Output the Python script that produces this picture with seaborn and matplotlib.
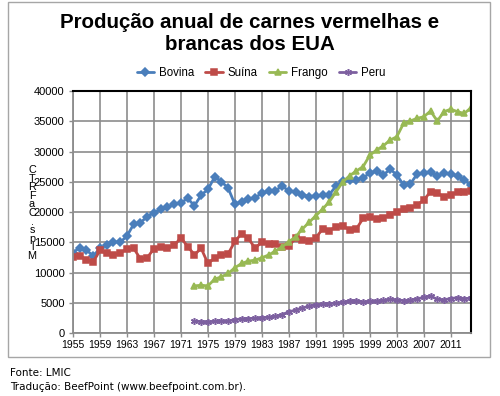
import matplotlib
matplotlib.use("Agg")
import matplotlib.pyplot as plt
import seaborn as sns
import pandas as pd
from matplotlib.patches import Rectangle

# Data (million lbs)
years = list(range(1955, 2015))
poultry_years = list(range(1973, 2015))

bovina = [13300, 14100, 13700, 12750, 14000, 14550, 15100, 15000, 16050, 18000,
          18250, 19250, 19900, 20450, 20800, 21300, 21550, 22250, 21050, 22800,
          23750, 25800, 25050, 23950, 21300, 21700, 22150, 22400, 23100, 23450,
          23500, 24350, 23450, 23350, 22900, 22550, 22700, 22800, 22900, 24300,
          25150, 25300, 25300, 25700, 26400, 26800, 26100, 27100, 26150, 24450,
          24650, 26250, 26400, 26550, 26000, 26400, 26250, 26000, 25300, 24400]

suina = [12550, 12800, 12050, 11800, 13650, 13150, 12900, 13250, 13900, 14000,
         12250, 12450, 13950, 14250, 14000, 14500, 15750, 14300, 12950, 14000,
         11500, 12400, 12900, 13100, 15150, 16450, 15650, 14000, 15100, 14700,
         14650, 14200, 14450, 15650, 15400, 15150, 15750, 17200, 16950, 17550,
         17750, 17050, 17200, 18950, 19250, 18800, 19050, 19550, 20050, 20500,
         20700, 21150, 22000, 23350, 23100, 22550, 22900, 23250, 23250, 23450]

frango = [7800, 7900, 7800, 8900, 9300, 9850, 10800, 11500, 11900, 12050,
          12450, 12900, 13550, 14250, 15100, 15900, 17200, 18300, 19400, 20500,
          21700, 23350, 25000, 26000, 26800, 27500, 29400, 30250, 30950, 31900,
          32450, 34650, 35050, 35500, 35750, 36700, 35050, 36600, 37000, 36600,
          36300, 37250]

peru = [1950, 1900, 1850, 1950, 2000, 2000, 2200, 2350, 2400, 2450,
        2550, 2600, 2750, 3050, 3500, 3800, 4150, 4450, 4650, 4750,
        4850, 4950, 5050, 5350, 5350, 5150, 5250, 5300, 5400, 5550,
        5500, 5350, 5450, 5650, 5900, 6150, 5550, 5500, 5700, 5850,
        5700, 5750]

ylabel_letters = ["C", "T", "R", "F", "a", "C", ".", "s", "p", "l", "M"]

sns.set_theme(style="white")
plt.rcParams['font.family'] = ['Liberation Sans', 'DejaVu Sans']
plt.rcParams['text.color'] = 'black'
plt.rcParams['xtick.color'] = 'black'
plt.rcParams['ytick.color'] = 'black'

fig = plt.figure(figsize=(5, 3.96), dpi=100)
ax = fig.add_axes([0.146, 0.159, 0.796, 0.611])

series = [
    ("Bovina", years, bovina, "#4a7ebb", "D", 3.6),
    ("Suína", years, suina, "#be4b48", "s", 4.6),
    ("Frango", poultry_years, frango, "#98b954", "^", 4.8),
    ("Peru", poultry_years, peru, "#7d60a0", (6, 2, 0), 5.0),
]
for name, xs, ys, col, mk, ms in series:
    df = pd.DataFrame({"ano": xs, "valor": ys})
    sns.lineplot(data=df, x="ano", y="valor", ax=ax, color=col, marker=mk,
                 markersize=ms, markeredgecolor=col, markeredgewidth=1.1,
                 linewidth=2.0, label=name)

ax.set_xlim(1955, 2014)
ax.set_ylim(0, 40000)
ax.set_xticks(range(1955, 2012, 4))
ax.set_yticks(range(0, 40001, 5000))
ax.set_xlabel("")
ax.set_ylabel("")
ax.grid(True, color="#8c8c8c", linewidth=1.2)
ax.set_axisbelow(True)
for side in ["left", "bottom"]:
    ax.spines[side].set_color("#8c8c8c")
    ax.spines[side].set_linewidth(1.3)
for side in ["top", "right"]:
    ax.spines[side].set_color("black")
    ax.spines[side].set_linewidth(1.5)
ax.tick_params(axis="y", length=3, width=1, color="#8c8c8c", labelcolor="black",
               pad=3, labelsize=8, left=True)
ax.tick_params(axis="x", length=3, width=1, color="#8c8c8c", labelcolor="black",
               pad=2, labelsize=7.5, bottom=True)

ax.legend(loc="center", bbox_to_anchor=(261 / 500, 1 - 73 / 396),
          bbox_transform=fig.transFigure, ncol=4, frameon=False, fontsize=8.3,
          handlelength=1.5, columnspacing=1.0, handletextpad=0.4)

fig.text(0.5, 1 - 34 / 396, "Produção anual de carnes vermelhas e\nbrancas dos EUA",
         ha="center", va="center", fontsize=14.8, fontweight="bold",
         linespacing=1.2, color="black")

fig.text(32 / 500, 1 - 213 / 396, "\n".join(ylabel_letters), ha="center", va="center",
         fontsize=7.8, linespacing=0.82)

fig.text(10 / 500, 1 - 373 / 396, "Fonte: LMIC", ha="left", va="center",
         fontsize=7.5, family="DejaVu Sans")
fig.text(10 / 500, 1 - 387 / 396, "Tradução: BeefPoint (www.beefpoint.com.br).",
         ha="left", va="center", fontsize=7.5, family="DejaVu Sans")

fig.patches.append(Rectangle((8 / 500, 1 - 357 / 396), 482 / 500, 355 / 396,
                             transform=fig.transFigure, fill=False,
                             edgecolor="#a6a6a6", linewidth=1))

fig.savefig("out.png", dpi=100)
